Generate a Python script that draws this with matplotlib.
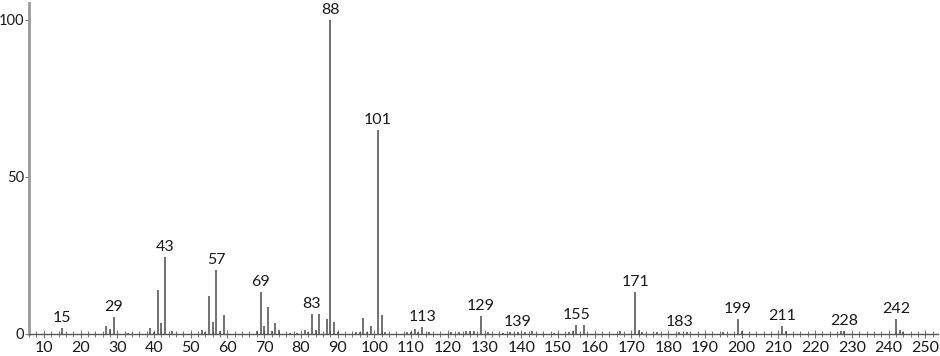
import numpy as np
import matplotlib as mpl
import matplotlib.pyplot as plt
from matplotlib.ticker import MultipleLocator

# -- DATA (m/z, relative abundance) --------------------------------------------
mz = [15, 27, 28, 29, 33, 39, 40, 41, 42, 43, 45, 53, 54, 55, 56, 57, 58, 59,
      68, 69, 70, 71, 72, 73, 74, 77, 79, 81, 82, 83, 84, 85, 87, 88, 89, 90,
      95, 96, 97, 98, 99, 101, 102, 103, 109, 110, 111, 112, 113, 115, 121,
      123, 125, 126, 127, 129, 131, 135, 137, 139, 141, 143, 149, 153, 154,
      155, 157, 167, 171, 172, 173, 177, 183, 185, 195, 199, 200, 211, 212,
      227, 228, 242, 243, 244]
abundance = [1.8, 2.5, 1.6, 5.5, 0.4, 2.0, 0.7, 14.0, 3.4, 24.6, 1.0, 1.1, 0.7,
             12.2, 3.8, 20.4, 1.0, 6.1, 0.8, 13.4, 2.5, 8.7, 1.0, 3.5, 1.3,
             0.3, 0.3, 1.3, 0.5, 6.3, 1.3, 6.3, 4.6, 100.0, 3.8, 0.7, 0.7,
             0.5, 5.1, 0.7, 2.5, 65.0, 6.0, 0.7, 0.7, 0.5, 1.5, 0.6, 2.1, 0.5,
             0.5, 0.6, 1.0, 1.0, 1.0, 5.6, 0.5, 0.4, 0.5, 0.6, 0.5, 0.8, 0.3,
             0.6, 1.0, 2.8, 2.7, 0.8, 13.2, 1.3, 0.5, 0.5, 0.6, 0.5, 0.5, 4.7,
             1.0, 2.6, 1.0, 1.0, 1.0, 4.7, 1.3, 0.5]
labelled = [15, 29, 43, 57, 69, 83, 88, 101, 113, 129, 139, 155, 171, 183,
            199, 211, 228, 242]
x_ticks = list(range(10, 251, 10))
y_ticks = [0, 50, 100]


def main():
    mpl.rcParams.update({
        'font.family': ['Lato', 'DejaVu Sans'],
        'font.size': 11.5,
        'text.color': '#1a1a1a',
        'xtick.color': '#777777',
        'ytick.color': '#777777',
        'xtick.labelcolor': '#1a1a1a',
        'ytick.labelcolor': '#1a1a1a',
    })

    fig = plt.figure(figsize=(9.4, 3.56), dpi=100)
    ax = fig.add_axes([0.031, 0.062, 0.967, 0.930])

    ax.vlines(mz, 0, abundance, color='#4a4a4a', linewidth=1.1)

    for m, a in zip(mz, abundance):
        if m in labelled:
            ax.text(m, a + 1.0, str(m), ha='center', va='bottom', fontsize=11.5)

    # -- AXES DETAILS ----------------------------------------------------------
    ax.set_xlim(6, 253.5)
    ax.set_ylim(0, 105.4)
    ax.set_xticks(x_ticks)
    ax.xaxis.set_minor_locator(MultipleLocator(2))
    ax.set_yticks(y_ticks)

    ax.tick_params(axis='x', which='major', direction='inout', length=6,
                   width=0.8, pad=2, labelsize=11.5)
    ax.tick_params(axis='x', which='minor', direction='inout', length=4,
                   width=0.7)
    ax.tick_params(axis='y', which='major', direction='out', length=3,
                   width=0.8, pad=0.5, labelsize=10.5)

    for side in ('top', 'right'):
        ax.spines[side].set_visible(False)
    ax.spines['left'].set_color('#9a9a9a')
    ax.spines['left'].set_linewidth(2)
    ax.spines['bottom'].set_color('#555555')
    ax.spines['bottom'].set_linewidth(1)

    plt.savefig('out.png', dpi=100)


main()
